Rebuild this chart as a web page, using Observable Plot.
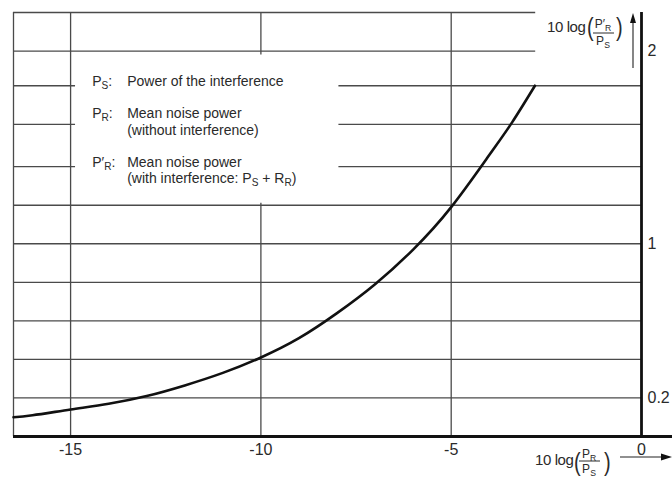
<!DOCTYPE html>
<html>
<head>
<meta charset="utf-8">
<script src="https://cdn.jsdelivr.net/npm/d3@7"></script>
<script src="https://cdn.jsdelivr.net/npm/@observablehq/plot@0.6"></script>
<style>
  html, body { margin: 0; padding: 0; background: #fff; }
  svg { display: block; }
</style>
</head>
<body>
<div id="chart"></div>
<script>
// ---- data ----
const xDomain = [-16.5, 0];
const yDomain = [0, 2.2];
const xTicks = [-15, -10, -5, 0];
const xTickLabels = ["-15", "-10", "-5", "0"];
const yTicks = [0.2, 1, 2];
const yTickLabels = ["0.2", "1", "2"];
const gridY = [0.2, 0.4, 0.6, 0.8, 1.0, 1.2, 1.4, 1.62, 1.82, 2.0, 2.2];
const gridX = [-15, -10, -5];
// curve: 10 log(P'R/PS) versus 10 log(PR/PS)
const curveX = [-16.5, -16, -15, -14, -13, -12, -11, -10, -9, -8, -7, -6, -5, -4, -3.4, -2.8];
const curveY = [0.10, 0.11, 0.14, 0.17, 0.21, 0.265, 0.33, 0.41, 0.51, 0.64, 0.79, 0.97, 1.19, 1.46, 1.63, 1.82];
// region of the legend box (grid interrupted) and of the y-axis label
const legendBox = {x1: -14.87, x2: -7.95, y1: 1.2, y2: 2.0};
const titleGapX = -2.78;

const curve = curveX.map((x, i) => ({x, y: curveY[i]}));

// grid segments built from the values above
const hSegs = [];
for (const gy of gridY) {
  if (gy > legendBox.y2 - 0.05) {
    hSegs.push({y: gy, x1: xDomain[0], x2: titleGapX});
  } else if (gy > legendBox.y1 + 0.05) {
    hSegs.push({y: gy, x1: xDomain[0], x2: legendBox.x1});
    hSegs.push({y: gy, x1: legendBox.x2, x2: xDomain[1]});
  } else {
    hSegs.push({y: gy, x1: xDomain[0], x2: xDomain[1]});
  }
}
const vSegs = [{x: xDomain[0], y1: 0, y2: yDomain[1]}];
for (const gx of gridX) {
  if (gx > legendBox.x1 && gx < legendBox.x2) {
    vSegs.push({x: gx, y1: 0, y2: legendBox.y1 + 0.01});
    vSegs.push({x: gx, y1: legendBox.y2 - 0.02, y2: yDomain[1]});
  } else {
    vSegs.push({x: gx, y1: 0, y2: yDomain[1]});
  }
}

const FONT = "'Liberation Sans', Arial, Helvetica, sans-serif";
const INK = "#2a2a2a";
const GRID = "#4a4a4a";

const plot = Plot.plot({
  width: 672,
  height: 486,
  marginLeft: 13,
  marginRight: 31,
  marginTop: 12,
  marginBottom: 50,
  style: {background: "#fff", fontFamily: FONT},
  x: {domain: xDomain, axis: null},
  y: {domain: yDomain, axis: null},
  marks: [
    Plot.ruleY(hSegs, {y: "y", x1: "x1", x2: "x2", stroke: GRID, strokeWidth: 1.3}),
    Plot.ruleX(vSegs, {x: "x", y1: "y1", y2: "y2", stroke: GRID, strokeWidth: 1.3}),
    Plot.line(curve, {x: "x", y: "y", curve: "natural", stroke: "#111", strokeWidth: 2.6}),
    // axes
    Plot.ruleX([0], {x: d => d, y1: 0, y2: yDomain[1], stroke: "#111", strokeWidth: 2.8}),
    Plot.ruleY([0], {y: d => d, x1: xDomain[0], x2: 0.84, stroke: "#111", strokeWidth: 2.8}),
    // tick labels
    Plot.text(xTicks, {x: d => d, y: 0, text: (d, i) => xTickLabels[i], dy: 13, fontSize: 16, fill: INK}),
    Plot.text(yTicks, {x: 0, y: d => d, text: (d, i) => yTickLabels[i], dx: 6, textAnchor: "start", fontSize: 16, fill: INK})
  ]
});

document.getElementById("chart").appendChild(plot);

// ---- annotations with subscripts ----
const svg = d3.select(plot);
const X = plot.scale("x").apply, Y = plot.scale("y").apply;
const g = svg.append("g").attr("font-family", FONT).attr("fill", INK).attr("text-anchor", "start");

function rich(x, y, parts, size, anchor = "start") {
  const t = g.append("text").attr("x", x).attr("y", y).attr("font-size", size).attr("text-anchor", anchor);
  let reset = 0;
  for (const p of parts) {
    if (typeof p === "string") {
      const s = t.append("tspan").text(p);
      if (reset) { s.attr("dy", reset); reset = 0; }
    } else if (p.sub) {
      const shift = size * 0.22;
      t.append("tspan").attr("font-size", size * 0.72).attr("dy", shift + reset).text(p.sub);
      reset = -shift;
    }
  }
  return t;
}

// legend text
const lx = X(-14.42), tx = X(-13.5);
const fs = 14;
rich(lx, Y(1.816), ["P", {sub: "S"}, ":"], fs);
rich(tx, Y(1.816), ["Power of the interference"], fs);
rich(lx, Y(1.650), ["P", {sub: "R"}, ":"], fs);
rich(tx, Y(1.650), ["Mean noise power"], fs);
rich(tx, Y(1.562), ["(without interference)"], fs);
rich(lx, Y(1.396), ["P\u2032", {sub: "R"}, ":"], fs);
rich(tx, Y(1.396), ["Mean noise power"], fs);
rich(tx, Y(1.313), ["(with interference: P", {sub: "S"}, " + R", {sub: "R"}, ")"], fs);

// fraction labels: 10 log( num / den )
function paren(ch, x, top, bottom) {
  const fsP = 20, k = (bottom - top) / (0.94 * fsP);
  const base = bottom - 0.21 * fsP * k;
  g.append("text").attr("text-anchor", "start").attr("transform", `translate(${x},${base}) scale(1,${k})`)
    .attr("font-size", fsP).text(ch);
}
function fracLabel(o) {
  g.append("text").attr("text-anchor", "start").attr("x", o.x0).attr("y", o.base).attr("font-size", 15)
    .attr("letter-spacing", -0.4).text("10 log");
  paren("(", o.open, o.top, o.bottom);
  rich(o.cx, o.num, o.numParts, 12, "middle");
  g.append("line").attr("x1", o.cx - 10).attr("x2", o.cx + 11).attr("y1", o.bar).attr("y2", o.bar)
    .attr("stroke", INK).attr("stroke-width", 1);
  rich(o.cx, o.den, o.denParts, 12, "middle");
  paren(")", o.close, o.top, o.bottom);
}
fracLabel({x0: 547, base: 32, open: 587, cx: 603, close: 616, top: 17, bottom: 42, bar: 33, num: 28, den: 45,
           numParts: ["P\u2032", {sub: "R"}], denParts: ["P", {sub: "S"}]});
fracLabel({x0: 535, base: 465, open: 574, cx: 589, close: 604, top: 452, bottom: 476, bar: 461, num: 458, den: 473,
           numParts: ["P", {sub: "R"}], denParts: ["P", {sub: "S"}]});

// arrows
const ax = X(0) - 8;
g.append("line").attr("x1", ax).attr("x2", ax).attr("y1", 68).attr("y2", 20).attr("stroke", "#222").attr("stroke-width", 1.1);
g.append("path").attr("d", `M${ax},${Y(2.2)+1} L${ax-3},${Y(2.2)+11} L${ax+3},${Y(2.2)+11} Z`).attr("fill", "#111");
const ay = Y(0) + 21;
g.append("line").attr("x1", 620).attr("x2", 663).attr("y1", ay).attr("y2", ay).attr("stroke", "#222").attr("stroke-width", 1.1);
g.append("path").attr("d", `M672,${ay} L661,${ay-3.5} L661,${ay+3.5} Z`).attr("fill", "#111");
</script>
</body>
</html>
